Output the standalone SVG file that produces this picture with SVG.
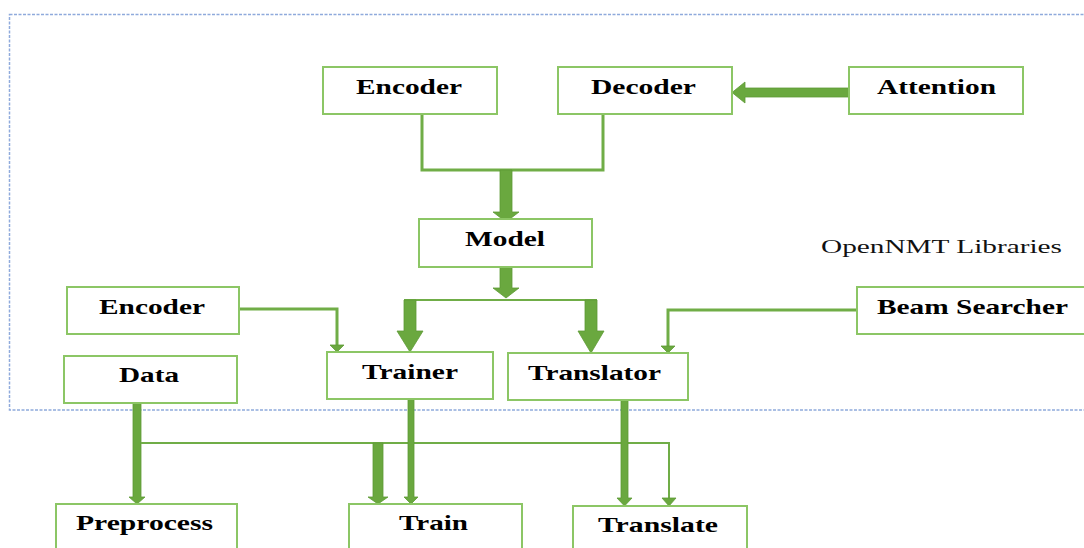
<svg xmlns="http://www.w3.org/2000/svg" width="1084" height="548" viewBox="0 0 1084 548">
  <style>
    .box { fill: #ffffff; stroke: #8cc665; stroke-width: 2; }
    .lbl { font-family: "Liberation Serif", "Times New Roman", serif; font-weight: bold; font-size: 21px; fill: #000000; }
    .note { font-family: "Liberation Serif", "Times New Roman", serif; font-size: 19px; fill: #111111; }
    .wire { fill: none; stroke: #70ad47; stroke-width: 3; }
    .thin { fill: none; stroke: #70ad47; stroke-width: 2; }
    .blk { fill: #6aa83f; stroke: #5e9a36; stroke-width: 0.8; }
    .frame { fill: none; stroke: #8faadc; stroke-width: 1.5; stroke-dasharray: 3 1.5; }
  </style>

  <rect width="1084" height="548" fill="#ffffff"/>

  <!-- library boundary -->
  <rect class="frame" x="9.5" y="14.5" width="1090" height="395.5"/>
  <text class="note" x="821" y="253" textLength="241" lengthAdjust="spacingAndGlyphs">OpenNMT Libraries</text>

  <g id="connectors">
    <!-- encoder + decoder merge into model -->
    <path class="wire" d="M422,114 V170 H603 V114"/>
    <path class="blk" d="M500,170 H512 V212 H519 L506,222 L493,212 H500 Z"/>
    <!-- attention into decoder -->
    <path class="blk" d="M849,88 V97 H745 V103 L732,92.5 L745,82 V88 Z"/>
    <!-- model fan-out -->
    <path class="blk" d="M500,267 H512 V288 H519 L506,298 L493,288 H500 Z"/>
    <path class="thin" d="M404,300 H597"/>
    <path class="blk" d="M404,300 H416 V331 H423 L410,352 L397,331 H404 Z"/>
    <path class="blk" d="M585,300 H597 V331 H604 L591,353 L578,331 H585 Z"/>
    <!-- encoder into trainer -->
    <path class="wire" d="M239,309 H337 V346"/>
    <path class="blk" d="M330,345 H344 L337,352 Z"/>
    <!-- beam searcher into translator -->
    <path class="wire" d="M857,310 H668 V347"/>
    <path class="blk" d="M661,346 H675 L668,353 Z"/>
    <!-- data distribution -->
    <path class="blk" d="M133,403 H141 V497 H145 L137,504 L129,497 H133 Z"/>
    <path class="thin" d="M141,443 H669 V499"/>
    <path class="blk" d="M662,498 H676 L669,506 Z"/>
    <path class="blk" d="M373,443 H383 V497 H388 L378,504 L368,497 H373 Z"/>
    <!-- trainer into train -->
    <path class="blk" d="M408,399 H414 V497 H418 L411,504 L404,497 H408 Z"/>
    <!-- translator into translate -->
    <path class="blk" d="M621,400 H628 V498 H632 L624.5,506 L617,498 H621 Z"/>
  </g>

  <g id="encoder-top">
    <rect class="box" x="323" y="67" width="174" height="47"/>
    <text class="lbl" x="356" y="94" textLength="106" lengthAdjust="spacingAndGlyphs">Encoder</text>
  </g>
  <g id="decoder">
    <rect class="box" x="558" y="67" width="174" height="47"/>
    <text class="lbl" x="591" y="94" textLength="105" lengthAdjust="spacingAndGlyphs">Decoder</text>
  </g>
  <g id="attention">
    <rect class="box" x="849" y="67" width="174" height="47"/>
    <text class="lbl" x="877" y="94" textLength="119" lengthAdjust="spacingAndGlyphs">Attention</text>
  </g>
  <g id="model">
    <rect class="box" x="419" y="219" width="173" height="48"/>
    <text class="lbl" x="465" y="246" textLength="80" lengthAdjust="spacingAndGlyphs">Model</text>
  </g>
  <g id="encoder-side">
    <rect class="box" x="67" y="287" width="172" height="47"/>
    <text class="lbl" x="99" y="314" textLength="106" lengthAdjust="spacingAndGlyphs">Encoder</text>
  </g>
  <g id="beam-searcher">
    <rect class="box" x="857" y="287" width="240" height="47"/>
    <text class="lbl" x="877" y="314" textLength="191" lengthAdjust="spacingAndGlyphs">Beam Searcher</text>
  </g>
  <g id="data">
    <rect class="box" x="64" y="356" width="173" height="47"/>
    <text class="lbl" x="119" y="382" textLength="60" lengthAdjust="spacingAndGlyphs">Data</text>
  </g>
  <g id="trainer">
    <rect class="box" x="327" y="352" width="166" height="47"/>
    <text class="lbl" x="362" y="379" textLength="96" lengthAdjust="spacingAndGlyphs">Trainer</text>
  </g>
  <g id="translator">
    <rect class="box" x="508" y="353" width="180" height="47"/>
    <text class="lbl" x="528" y="380" textLength="133" lengthAdjust="spacingAndGlyphs">Translator</text>
  </g>
  <g id="preprocess">
    <rect class="box" x="56" y="504" width="181" height="60"/>
    <text class="lbl" x="76" y="530" textLength="137" lengthAdjust="spacingAndGlyphs">Preprocess</text>
  </g>
  <g id="train">
    <rect class="box" x="349" y="504" width="173" height="60"/>
    <text class="lbl" x="399" y="530" textLength="69" lengthAdjust="spacingAndGlyphs">Train</text>
  </g>
  <g id="translate">
    <rect class="box" x="573" y="506" width="174" height="60"/>
    <text class="lbl" x="598" y="532" textLength="120" lengthAdjust="spacingAndGlyphs">Translate</text>
  </g>
</svg>
